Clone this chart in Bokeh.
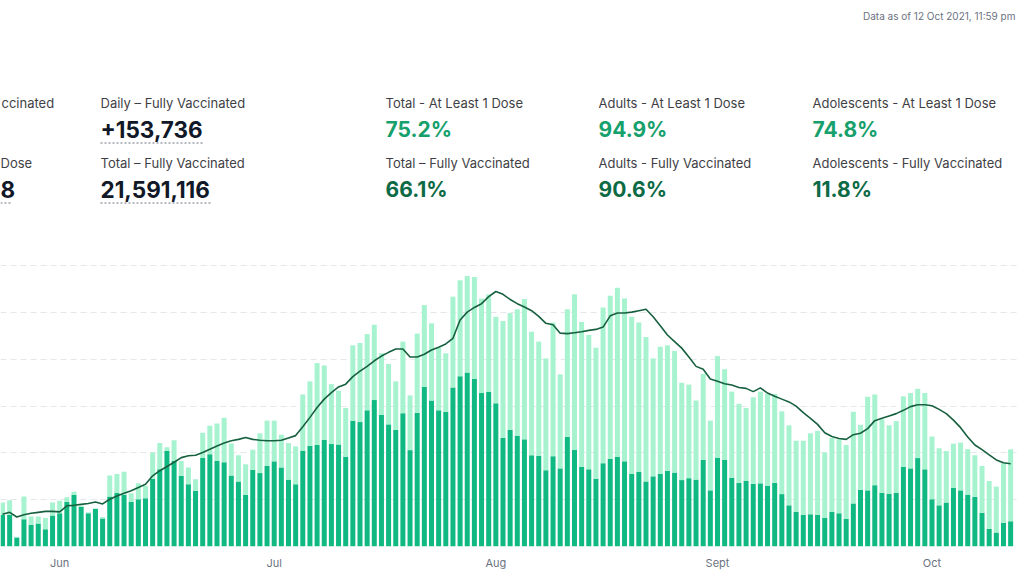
import pandas as pd
from bokeh.plotting import figure
from bokeh.models import ColumnDataSource, Range1d, FixedTicker, LinearAxis, Grid, Label
from bokeh.embed import file_html
from bokeh.resources import INLINE

# ---------------- data (thousands of doses per day) ----------------
first_day = "2021-05-24"
last_day = "2021-10-12"
dates = pd.date_range(first_day, last_day, freq="D")

dose1 = [68, 68, 19, 58, 46, 49, 37, 66, 71, 95, 110, 85, 71, 80, 60, 107, 115, 110, 95, 101,
         103, 145, 165, 204, 183, 151, 133, 119, 189, 197, 183, 180, 152, 139, 110, 164, 157, 172,
         182, 169, 143, 133, 205, 215, 217, 228, 219, 218, 192, 269, 266, 291, 313, 281, 261, 249,
         285, 206, 286, 341, 312, 291, 288, 340, 364, 372, 358, 328, 331, 306, 232, 249, 237, 229,
         195, 194, 163, 193, 167, 234, 207, 170, 165, 145, 178, 187, 192, 182, 155, 160, 139, 150,
         155, 162, 158, 142, 146, 143, 185, 120, 190, 185, 147, 136, 140, 134, 135, 130, 136, 112,
         88, 74, 68, 69, 68, 61, 74, 71, 59, 92, 121, 120, 131, 115, 113, 115, 170, 167, 189, 165,
         101, 88, 94, 125, 120, 111, 106, 72, 38, 30, 51, 54]
dose2 = [26, 31, 2, 49, 18, 15, 24, 28, 27, 10, 7, 2, 2, 2, 3, 45, 40, 50, 19, 34,
         27, 56, 56, 8, 44, 32, 36, 25, 54, 61, 80, 95, 68, 56, 66, 43, 85, 97,
         87, 70, 78, 81, 120, 138, 175, 159, 128, 115, 104, 161, 169, 163, 161, 132, 129, 104,
         153, 117, 169, 175, 165, 134, 125, 194, 205, 206, 218, 202, 208, 185, 250, 250, 270, 300,
         264, 244, 239, 286, 201, 273, 332, 310, 287, 280, 333, 349, 361, 348, 336, 319, 309, 252,
         272, 268, 260, 208, 200, 169, 184, 149, 217, 194, 184, 169, 156, 185, 196, 196, 190, 177,
         171, 152, 158, 173, 179, 140, 158, 158, 158, 196, 139, 200, 194, 157, 146, 153, 151, 161,
         148, 163, 134, 122, 110, 95, 102, 97, 89, 100, 102, 98, 127, 153.7]
avg7 = [69, 73, 63, 68, 71, 73, 75, 75, 74, 87, 88, 90, 92, 95, 91, 101, 108, 114, 119, 126,
        133, 151, 162, 171, 180, 190, 194, 195, 201, 208, 215, 221, 226, 229, 233, 229, 227, 226,
        226, 227, 232, 237, 256, 276, 297, 315, 329, 341, 347, 363, 375, 385, 397, 407, 415, 422,
        422, 405, 405, 411, 420, 426, 433, 445, 484, 501, 511, 519, 534, 545, 539, 528, 519, 512,
        504, 492, 477, 474, 456, 455, 457, 459, 462, 464, 469, 493, 499, 499, 501, 504, 507, 491,
        472, 452, 438, 424, 405, 385, 379, 358, 353, 348, 345, 340, 338, 331, 339, 328, 321, 315,
        309, 300, 286, 274, 261, 243, 235, 231, 229, 239, 242, 252, 269, 274, 279, 284, 291, 299,
        303, 303, 301, 293, 284, 270, 254, 234, 217, 207, 196, 185, 179, 177]

month_starts = ["2021-06-01", "2021-07-01", "2021-08-01", "2021-09-01", "2021-10-01"]
month_labels = ["Jun", "Jul", "Aug", "Sept", "Oct"]
grid_values = [100, 200, 300, 400, 500, 600]

timestamp = "Data as of 12 Oct 2021, 11:59 pm"
count_col = ("Daily – Fully Vaccinated", "+153,736", "Total – Fully Vaccinated", "21,591,116")
pct_cols = [
    ("Total - At Least 1 Dose", "75.2%", "Total – Fully Vaccinated", "66.1%"),
    ("Adults - At Least 1 Dose", "94.9%", "Adults - Fully Vaccinated", "90.6%"),
    ("Adolescents - At Least 1 Dose", "74.8%", "Adolescents - Fully Vaccinated", "11.8%"),
]
cut_texts = ("ccinated", "Dose", "8")   # column cut off at the left edge

# ---------------- styling ----------------
FONT = "Inter"
DARK_BAR = "#10B981"
LIGHT_BAR = "#A7F3D0"
LINE_C = "#17603F"
PCT1_C = "#16A06C"
PCT2_C = "#0C6A45"
LABEL_C = "#3F3F46"
VALUE_C = "#111827"

FW, FH = 1020, 546          # frame in page pixels, frame top-left at page (0, 0)
Y_END = 1167.0

jun1 = pd.Timestamp("2021-06-01")
x_start = jun1 - pd.Timedelta(days=8.28)
x_end = jun1 + pd.Timedelta(days=134.38)
xs_ms = x_start.value / 1e6
xe_ms = x_end.value / 1e6


def px_x(px):  # page pixel -> data x (ms)
    return xs_ms + px / FW * (xe_ms - xs_ms)


def py_y(py):  # page pixel -> data y
    return (FH - py) / FH * Y_END


source = ColumnDataSource(dict(date=dates, dose1=dose1, dose2=dose2, avg7=avg7))

p = figure(frame_width=FW, frame_height=FH, output_backend="svg", toolbar_location=None,
           x_axis_type=None, y_axis_type=None,
           x_range=Range1d(x_start, x_end), y_range=Range1d(0, Y_END),
           min_border_left=0, min_border_right=0, min_border_top=0, min_border_bottom=0,
           outline_line_color=None, background_fill_color="white", border_fill_color="white")

grid = Grid(dimension=1, ticker=FixedTicker(ticks=grid_values),
            grid_line_color="#E5E7EB", grid_line_dash="6 4", grid_line_width=1)
p.add_layout(grid)

day_ms = 86400000
p.vbar_stack(["dose1", "dose2"], x="date", width=0.7 * day_ms, color=[DARK_BAR, LIGHT_BAR],
             line_color=None, source=source)
p.line(x="date", y="avg7", source=source, line_color=LINE_C, line_width=1.6)

tick_ms = [pd.Timestamp(m).value / 1e6 for m in month_starts]
xaxis = LinearAxis(ticker=FixedTicker(ticks=tick_ms),
                   major_label_overrides={t: lab for t, lab in zip(tick_ms, month_labels)})
xaxis.axis_line_color = None
xaxis.major_tick_line_color = None
xaxis.minor_tick_line_color = None
xaxis.major_tick_out = 0
xaxis.major_tick_in = 0
xaxis.minor_tick_out = 0
xaxis.major_label_text_font = FONT
xaxis.major_label_text_font_size = "11px"
xaxis.major_label_text_color = "#6B7280"
xaxis.major_label_standoff = 9
p.add_layout(xaxis, "below")


def add_text(px, py, text, size, color, bold=False, align="left"):
    # py is the vertical centre of the text in page pixels
    p.add_layout(Label(x=px_x(px), y=py_y(py), text=text, text_font=FONT,
                       text_font_size=size, text_color=color,
                       text_font_style="bold" if bold else "normal",
                       text_align=align, text_baseline="alphabetic"))


def underline(px0, px1, py):
    p.segment(x0=[px_x(px0)], y0=[py_y(py)], x1=[px_x(px1)], y1=[py_y(py)],
              line_color="#6B7280", line_dash="2 2", line_width=1)


ROW1_LABEL, ROW1_VALUE, ROW2_LABEL, ROW2_VALUE = 102, 129, 162, 189

add_text(1015, 15, timestamp, "10px", "#6B7280", align="right")

# left column, cut off by the page edge
add_text(1, ROW1_LABEL, cut_texts[0], "13px", LABEL_C)
add_text(0, ROW2_LABEL, cut_texts[1], "13px", LABEL_C)
add_text(0, ROW2_VALUE, cut_texts[2], "22.5px", VALUE_C, bold=True)
underline(0, 12, 202.5)

# daily / total counts
l1, v1, l2, v2 = count_col
add_text(100, ROW1_LABEL, l1, "13px", LABEL_C)
add_text(100, ROW1_VALUE, v1, "22.5px", VALUE_C, bold=True)
add_text(100, ROW2_LABEL, l2, "13px", LABEL_C)
add_text(100, ROW2_VALUE, v2, "22.5px", VALUE_C, bold=True)
underline(100, 202, 142.5)
underline(100, 212, 202.5)

for cx, (l1, v1, l2, v2) in zip([385, 598, 812], pct_cols):
    add_text(cx, ROW1_LABEL, l1, "13px", LABEL_C)
    add_text(cx, ROW1_VALUE, v1, "21px", PCT1_C, bold=True)
    add_text(cx, ROW2_LABEL, l2, "13px", LABEL_C)
    add_text(cx, ROW2_VALUE, v2, "21px", PCT2_C, bold=True)

open("out.html", "w").write(file_html(p, INLINE))
